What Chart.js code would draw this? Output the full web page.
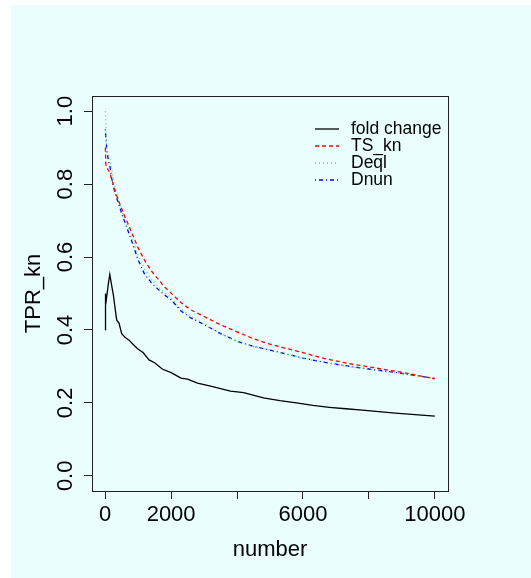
<!DOCTYPE html>
<html>
<head>
<meta charset="utf-8">
<script src="https://cdn.jsdelivr.net/npm/chart.js@4"></script>
<style>
  body { margin: 0; background: #ffffff; }
  #plot { position: absolute; left: 0; top: 0; }
</style>
</head>
<body>
<canvas id="plot" width="531" height="578"></canvas>
<script>
// x positions shared by the three smooth curves
const numbers = [5, 20, 50, 100, 150, 200, 250, 300, 400, 500, 600, 700, 800, 1000, 1200, 1400, 1600, 1800,
  2000, 2300, 2600, 3000, 3500, 4000, 4500, 5000, 5500, 6000, 6500, 7000, 7500, 8000, 8500, 9000, 9500, 10000];
const tsKn = [0.90, 0.855, 0.845, 0.838, 0.828, 0.812, 0.797, 0.782, 0.755, 0.733, 0.71, 0.69, 0.668, 0.625, 0.59, 0.562, 0.54, 0.518,
  0.501, 0.475, 0.455, 0.437, 0.414, 0.395, 0.376, 0.361, 0.349, 0.338, 0.325, 0.315, 0.306, 0.299, 0.291, 0.284, 0.275, 0.266];
const deql = [1.0, 0.95, 0.90, 0.88, 0.87, 0.84, 0.81, 0.79, 0.76, 0.73, 0.705, 0.68, 0.655, 0.605, 0.566, 0.54, 0.52, 0.502,
  0.488, 0.458, 0.437, 0.417, 0.391, 0.368, 0.355, 0.345, 0.334, 0.322, 0.313, 0.305, 0.298, 0.292, 0.286, 0.28, 0.273, 0.267];
const dnun = [0.95, 0.93, 0.89, 0.865, 0.845, 0.815, 0.795, 0.775, 0.748, 0.72, 0.695, 0.67, 0.645, 0.592, 0.552, 0.53, 0.512, 0.496,
  0.483, 0.452, 0.433, 0.415, 0.39, 0.369, 0.355, 0.345, 0.334, 0.323, 0.314, 0.306, 0.299, 0.293, 0.287, 0.281, 0.274, 0.267];

// fold change is bumpier, so it gets its own x positions
const foldNumbers = [5, 10, 30, 60, 100, 140, 200, 250, 300, 350, 420, 500, 600, 725, 850, 1000, 1150, 1330, 1500, 1730,
  2000, 2300, 2500, 2800, 3200, 3800, 4200, 4800, 5300, 5800, 6300, 6800, 7300, 7800, 8300, 8800, 9400, 10000];
const foldChange = [0.40, 0.50, 0.48, 0.50, 0.53, 0.552, 0.52, 0.495, 0.46, 0.427, 0.419, 0.39, 0.38, 0.372, 0.36, 0.347, 0.338, 0.318, 0.31, 0.293,
  0.283, 0.268, 0.265, 0.254, 0.246, 0.232, 0.228, 0.214, 0.206, 0.200, 0.193, 0.188, 0.184, 0.180, 0.176, 0.172, 0.168, 0.164];

const xTicks = [0, 2000, 4000, 6000, 8000, 10000];
const xTickLabels = ['0', '2000', '', '6000', '', '10000'];
const yTicks = [0, 0.2, 0.4, 0.6, 0.8, 1.0];
const yTickLabels = ['0.0', '0.2', '0.4', '0.6', '0.8', '1.0'];

const FONT = '"Liberation Sans", Arial, sans-serif';

function pts(xs, ys) {
  return xs.map((x, i) => ({ x: x, y: ys[i] }));
}

const rStyle = {
  id: 'rStyle',
  beforeDraw(chart) {
    const ctx = chart.ctx;
    ctx.save();
    ctx.fillStyle = '#ffffff';
    ctx.fillRect(0, 0, chart.width, chart.height);
    ctx.fillStyle = '#eafefe';
    ctx.fillRect(11, 5, chart.width - 11, chart.height - 5);
    ctx.restore();
  },
  afterDraw(chart) {
    const ctx = chart.ctx;
    const a = chart.chartArea;
    ctx.save();
    // box
    ctx.strokeStyle = '#222222';
    ctx.lineWidth = 1;
    ctx.strokeRect(Math.round(a.left) + 0.5, Math.round(a.top) + 0.5,
      Math.round(a.right - a.left), Math.round(a.bottom - a.top));

    // rotated y tick labels
    const ys = chart.scales.y;
    ctx.fillStyle = '#000000';
    ctx.font = '22px ' + FONT;
    ctx.textAlign = 'center';
    ctx.textBaseline = 'middle';
    yTicks.forEach((v, i) => {
      ctx.save();
      ctx.translate(66, ys.getPixelForValue(v));
      ctx.rotate(-Math.PI / 2);
      ctx.fillText(yTickLabels[i], 0, 0);
      ctx.restore();
    });

    // legend, no box
    ctx.font = '17.5px ' + FONT;
    ctx.textAlign = 'left';
    chart.data.datasets.forEach((ds, i) => {
      const y = 129 + i * 17;
      ctx.strokeStyle = ds.borderColor;
      ctx.lineWidth = ds.borderWidth;
      ctx.setLineDash(ds.borderDash || []);
      ctx.beginPath();
      ctx.moveTo(315, y);
      ctx.lineTo(339, y);
      ctx.stroke();
      ctx.setLineDash([]);
      ctx.fillStyle = '#000000';
      ctx.fillText(ds.label, 351, y);
    });
    ctx.restore();
  }
};

new Chart(document.getElementById('plot'), {
  type: 'scatter',
  data: {
    datasets: [
      { label: 'fold change', data: pts(foldNumbers, foldChange), borderColor: '#000000', borderWidth: 1.3 },
      { label: 'TS_kn', data: pts(numbers, tsKn), borderColor: '#ff0000', borderWidth: 1.3, borderDash: [4, 3] },
      { label: 'Deql', data: pts(numbers, deql), borderColor: '#55dd55', borderWidth: 1.3, borderDash: [1, 3] },
      { label: 'Dnun', data: pts(numbers, dnun), borderColor: '#0000ff', borderWidth: 1.3, borderDash: [1, 3, 4, 3] }
    ].map(d => Object.assign(d, { showLine: true, pointRadius: 0, tension: 0, fill: false }))
  },
  options: {
    responsive: false,
    devicePixelRatio: 1,
    animation: false,
    events: [],
    layout: { padding: { left: 0, top: 96, right: 83, bottom: 0 } },
    plugins: { legend: { display: false }, tooltip: { enabled: false } },
    scales: {
      x: {
        type: 'linear',
        min: -400,
        max: 10400,
        afterBuildTicks: s => { s.ticks = xTicks.map(v => ({ value: v })); },
        afterFit: s => { s.height = 87; },
        grid: { drawOnChartArea: false, drawTicks: true, tickLength: 8, color: '#222222', lineWidth: 1 },
        border: { display: false },
        ticks: {
          autoSkip: false, maxRotation: 0, minRotation: 0, padding: 3, color: '#000000',
          font: { family: FONT, size: 22 },
          callback: (v) => xTickLabels[xTicks.indexOf(v)]
        },
        title: { display: true, text: 'number', color: '#000000', font: { family: FONT, size: 22 }, padding: { top: 0, bottom: 15 } }
      },
      y: {
        type: 'linear',
        min: -0.0416,
        max: 1.0416,
        afterBuildTicks: s => { s.ticks = yTicks.map(v => ({ value: v })); },
        afterFit: s => { s.width = 92; },
        grid: { drawOnChartArea: false, drawTicks: true, tickLength: 8, color: '#222222', lineWidth: 1 },
        border: { display: false },
        ticks: { display: false },
        title: { display: true, text: 'TPR_kn', color: '#000000', font: { family: FONT, size: 22 }, padding: { top: 21, bottom: 0 } }
      }
    }
  },
  plugins: [rStyle]
});
</script>
</body>
</html>
